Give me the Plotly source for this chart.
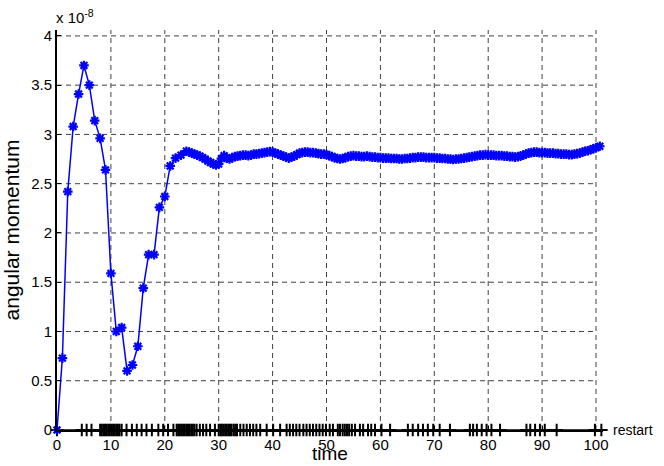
import plotly.graph_objects as go

# ---- data (values in units of 1e-8) ----
t_early = list(range(0, 25))
v_early = [0.0, 0.73, 2.42, 3.08, 3.41, 3.70, 3.50, 3.14, 2.96, 2.64,
           1.59, 1.00, 1.04, 0.60, 0.66, 0.85, 1.44, 1.78, 1.78, 2.26,
           2.37, 2.68, 2.76, 2.79, 2.83]

v_dense = [2.82, 2.81, 2.80, 2.79, 2.78, 2.765, 2.75, 2.73, 2.715, 2.70,
           2.69, 2.70, 2.755, 2.785, 2.76, 2.75, 2.765, 2.775, 2.78, 2.785,
           2.79, 2.79, 2.785, 2.79, 2.80, 2.80, 2.805, 2.81, 2.815, 2.82,
           2.825, 2.82, 2.81, 2.80, 2.79, 2.78, 2.77, 2.76, 2.77, 2.78,
           2.795, 2.81, 2.815, 2.82, 2.82, 2.815, 2.815, 2.81, 2.805, 2.80,
           2.80, 2.795, 2.785, 2.775, 2.765, 2.755, 2.75, 2.755, 2.765, 2.775,
           2.78, 2.785, 2.78, 2.78, 2.775, 2.775, 2.78, 2.775, 2.77, 2.77,
           2.765, 2.765, 2.76, 2.76, 2.76, 2.755, 2.755, 2.755, 2.75, 2.75,
           2.755, 2.755, 2.76, 2.765, 2.765, 2.77, 2.77, 2.77, 2.765, 2.765,
           2.765, 2.765, 2.76, 2.76, 2.755, 2.755, 2.75, 2.75, 2.745, 2.75,
           2.75, 2.755, 2.76, 2.765, 2.77, 2.775, 2.78, 2.785, 2.79, 2.79,
           2.795, 2.79, 2.79, 2.79, 2.785, 2.785, 2.785, 2.78, 2.78, 2.775,
           2.775, 2.77, 2.775, 2.78, 2.79, 2.80, 2.81, 2.815, 2.82, 2.82,
           2.815, 2.815, 2.815, 2.81, 2.81, 2.81, 2.805, 2.805, 2.80, 2.80,
           2.80, 2.795, 2.795, 2.80, 2.805, 2.81, 2.82, 2.83, 2.835, 2.845,
           2.855, 2.865, 2.88]
t_dense_start = 24.5
t_dense_step = 0.5
t_last = 100.7

restart_times = [0, 4.6, 5.5, 6.4, 8.0, 8.3, 8.6, 8.9, 9.2, 9.5, 9.8, 10.1, 10.4,
                 10.7, 11.0, 11.3, 11.6, 12.0, 12.9, 13.9, 14.8, 15.7, 16.6, 17.6,
                 18.8, 19.7, 20.6, 21.6, 22.2, 22.5, 22.8, 23.1, 23.4, 23.7, 24.0,
                 24.3, 24.6, 24.9, 25.2, 25.5, 25.9, 26.5, 27.1, 27.7, 28.4, 29.3,
                 30.0, 30.3, 30.6, 30.9, 31.2, 31.5, 31.8, 32.1, 32.4, 32.8, 33.1,
                 33.4, 34.0, 34.6, 35.2, 35.8, 36.4, 37.0, 37.7, 38.9, 40.1, 41.4,
                 42.6, 43.2, 43.8, 44.4, 45.0, 45.7, 46.3, 46.9, 47.5, 48.1, 48.7,
                 49.3, 49.9, 50.6, 51.2, 52.1, 52.5, 53.0, 53.4, 53.8, 54.2, 54.7,
                 55.3, 56.2, 56.8, 57.7, 58.3, 59.0, 60.2, 61.8, 65.1, 66.0, 67.0,
                 67.9, 68.8, 69.8, 71.0, 72.9, 76.6, 77.2, 77.9, 78.8, 79.7, 80.6,
                 82.2, 87.1, 87.8, 88.7, 89.6, 90.5, 92.7, 99.8, 101.0]

x_ticks = [0, 10, 20, 30, 40, 50, 60, 70, 80, 90, 100]
y_ticks = [0, 0.5, 1, 1.5, 2, 2.5, 3, 3.5, 4]
y_tick_text = ["0", "0.5", "1", "1.5", "2", "2.5", "3", "3.5", "4"]

# ---- build ----
t_dense = [t_dense_start + t_dense_step * i for i in range(len(v_dense))]
t_dense[-1] = t_last
t_all = t_early + t_dense
v_all = v_early + v_dense

FONT = "Liberation Sans, Arial, sans-serif"
fig = go.Figure()

fig.add_trace(go.Scatter(
    x=restart_times, y=[0] * len(restart_times), mode="lines+markers",
    line=dict(color="black", width=1.5),
    marker=dict(symbol="cross-thin", size=9, line=dict(color="black", width=2)),
    cliponaxis=False, showlegend=False, hoverinfo="skip"))

fig.add_trace(go.Scatter(
    x=t_all, y=v_all, mode="lines+markers",
    line=dict(color="#0000FF", width=1.5),
    marker=dict(symbol="asterisk-open", size=8, color="#0000FF",
                line=dict(color="#0000FF", width=2.2)),
    cliponaxis=False, showlegend=False))

# dashed grid (drawn within 0..100 x 0..4.06)
shapes = []
for xv in x_ticks[1:]:
    shapes.append(dict(type="line", xref="x", yref="y", x0=xv, x1=xv, y0=0, y1=4.06,
                       line=dict(color="#404040", width=1, dash="5px,4px"), layer="below"))
for yv in y_ticks[1:]:
    shapes.append(dict(type="line", xref="x", yref="y", x0=0, x1=100, y0=yv, y1=yv,
                       line=dict(color="#404040", width=1, dash="5px,4px"), layer="below"))

fig.update_layout(
    width=664, height=466,
    margin=dict(l=57, r=61, t=30, b=36),
    paper_bgcolor="white", plot_bgcolor="white",
    font=dict(family=FONT, size=15, color="black"),
    shapes=shapes,
    xaxis=dict(range=[0, 101.3], tickvals=x_ticks, showgrid=False, zeroline=False,
               showline=True, linecolor="black", linewidth=1.5,
               ticks="inside", ticklen=4, tickcolor="black",
               tickfont=dict(size=15), automargin=False),
    yaxis=dict(range=[0, 4.06], tickvals=y_ticks, ticktext=y_tick_text,
               showgrid=False, zeroline=False,
               showline=True, linecolor="black", linewidth=2,
               ticks="inside", ticklen=4, tickcolor="black",
               tickfont=dict(size=15), automargin=False,
               title=dict(text="angular momentum", font=dict(size=21), standoff=6)),
    annotations=[
        dict(text="x 10<sup>-8</sup>", xref="paper", yref="paper", x=0, y=1,
             xanchor="left", yanchor="bottom", showarrow=False,
             font=dict(size=15), yshift=2, xshift=-3),
        dict(text="restart", xref="paper", yref="y", x=1, y=0,
             xanchor="left", yanchor="middle", showarrow=False,
             font=dict(size=14), xshift=8),
        dict(text="time", xref="paper", yref="paper", x=(330 - 57) / (603 - 57), y=0,
             xanchor="center", yanchor="bottom", showarrow=False,
             font=dict(size=19), yshift=-36),
    ],
)

fig.write_html("out.html")
